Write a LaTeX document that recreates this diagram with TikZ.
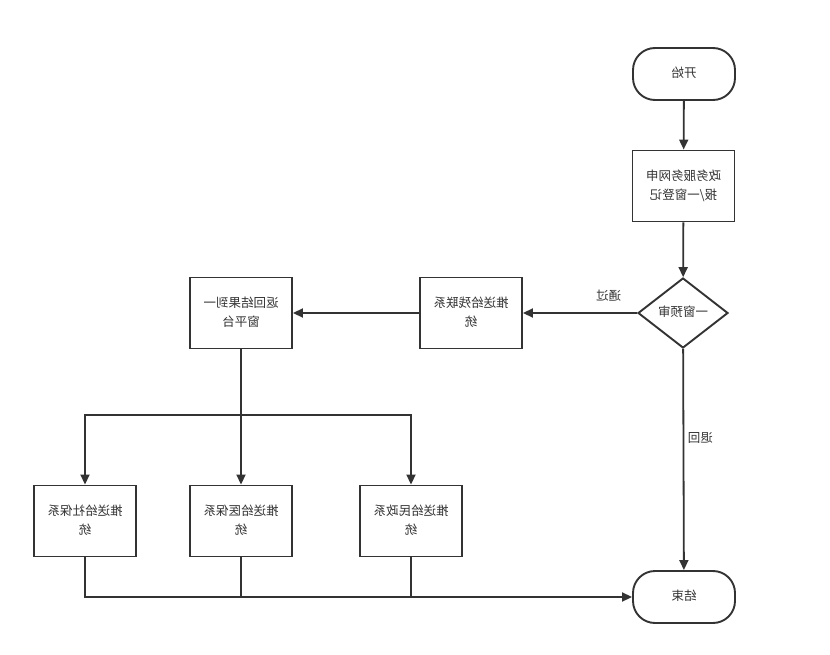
\documentclass[tikz,border=0pt]{standalone}
\usepackage{fontspec}
\usepackage{graphicx}
\newfontfamily\cjk{Noto Sans CJK SC}
\usetikzlibrary{arrows.meta,shapes.geometric}
\newcommand\mirtxt[1]{\reflectbox{\begin{tabular}{@{}c@{}}#1\end{tabular}}}
\definecolor{ln}{HTML}{333333}
\tikzset{
  base/.style={draw=ln,line width=1.9pt,text=ln,font=\cjk\fontsize{12.5}{19}\selectfont,inner sep=0pt},
  term/.style={base,rounded corners=22pt,minimum width=102pt,minimum height=52pt},
  proc/.style={base,minimum width=102pt,minimum height=71pt},
  dec/.style={base,diamond,minimum width=90pt,minimum height=70pt},
  conn/.style={draw=ln,line width=1.8pt,-{Triangle[length=10pt,width=9pt]}},
  plain/.style={draw=ln,line width=1.8pt},
  lbl/.style={text=ln,font=\cjk\fontsize{12.5}{15}\selectfont,inner sep=1pt}
}
\begin{document}
\begin{tikzpicture}[x=1pt,y=-1pt]
\useasboundingbox (0,0) rectangle (830,655);
\node[term] (start) at (684,74) {\mirtxt{开始}};
\node[proc] (reg) at (683.5,186) {\mirtxt{政务服务网申\\报/一窗登记}};
\node[dec] (pre) at (683,313) {\mirtxt{一窗预审}};
\node[proc] (cl) at (471,313) {\mirtxt{推送给残联系\\统}};
\node[proc] (ret) at (241,313) {\mirtxt{返回结果到一\\窗平台}};
\node[proc] (sb) at (85,521) {\mirtxt{推送给社保系\\统}};
\node[proc] (yb) at (241,521) {\mirtxt{推送给医保系\\统}};
\node[proc] (mz) at (411,521) {\mirtxt{推送给民政系\\统}};
\node[term] (end) at (684,597) {\mirtxt{结束}};
\coordinate (j1) at (241,415);
\coordinate (j2) at (241,597);
\draw[conn] (start) -- (reg);
\draw[conn] (reg) -- (pre);
\draw[conn] (pre) -- node[lbl,above=6pt,pos=0.25] {\mirtxt{通过}} (cl);
\draw[conn] (cl) -- (ret);
\draw[conn] (pre) -- node[lbl,pos=0.41,xshift=17pt] {\mirtxt{退回}} (end);
\draw[plain] (ret) -- (j1);
\draw[conn] (j1) -| (sb);
\draw[conn] (j1) -- (yb);
\draw[conn] (j1) -| (mz);
\draw[plain] (sb.south) |- (j2);
\draw[plain] (mz.south) |- (j2);
\draw[conn] (yb.south) |- (end.west);
\end{tikzpicture}
\end{document}
